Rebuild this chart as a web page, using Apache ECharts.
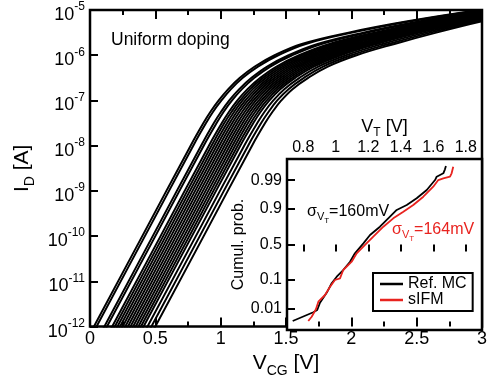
<!DOCTYPE html>
<html>
<head>
<meta charset="utf-8">
<script src="https://cdn.jsdelivr.net/npm/echarts@6/dist/echarts.min.js"></script>
<style>html,body{margin:0;padding:0;background:#fff}#c{width:497px;height:383px}</style>
</head>
<body>
<div id="c"></div>
<script>
// ---- main plot: gate voltage V_CG (V) at which each curve reaches a given log10(I_D) level ----
const levelsLog = [-12.5, -10, -8, -7.5, -7.25, -7, -6.75, -6.5, -6.25, -6, -5.75, -5.5, -5.25, -5, -4.9];
const curve01 = [-0.063, 0.40, 0.77, 0.868, 0.922, 0.985, 1.058, 1.147, 1.261, 1.413, 1.621, 1.978, 2.430, 2.980, 3.270];
const curve02 = [-0.043, 0.42, 0.79, 0.888, 0.942, 1.006, 1.079, 1.169, 1.285, 1.440, 1.651, 2.007, 2.455, 2.998, 3.283];
const curve03 = [0.017, 0.48, 0.85, 0.948, 1.003, 1.066, 1.142, 1.236, 1.356, 1.520, 1.742, 2.092, 2.527, 3.051, 3.323];
const curve04 = [0.037, 0.50, 0.87, 0.969, 1.023, 1.087, 1.163, 1.258, 1.380, 1.547, 1.772, 2.121, 2.551, 3.069, 3.336];
const curve05 = [0.077, 0.54, 0.91, 1.009, 1.064, 1.128, 1.205, 1.303, 1.428, 1.600, 1.832, 2.178, 2.600, 3.105, 3.362];
const curve06 = [0.097, 0.56, 0.93, 1.028, 1.084, 1.148, 1.225, 1.325, 1.451, 1.626, 1.862, 2.206, 2.624, 3.123, 3.375];
const curve07 = [0.117, 0.58, 0.95, 1.049, 1.104, 1.168, 1.246, 1.347, 1.475, 1.653, 1.893, 2.235, 2.648, 3.141, 3.389];
const curve08 = [0.137, 0.60, 0.97, 1.069, 1.124, 1.189, 1.268, 1.370, 1.499, 1.680, 1.923, 2.264, 2.673, 3.159, 3.402];
const curve09 = [0.157, 0.62, 0.99, 1.089, 1.144, 1.209, 1.288, 1.392, 1.523, 1.706, 1.953, 2.292, 2.697, 3.177, 3.415];
const curve10 = [0.177, 0.64, 1.01, 1.109, 1.165, 1.230, 1.309, 1.414, 1.547, 1.733, 1.983, 2.321, 2.721, 3.195, 3.428];
const curve11 = [0.197, 0.66, 1.03, 1.129, 1.185, 1.250, 1.330, 1.436, 1.570, 1.760, 2.013, 2.350, 2.745, 3.212, 3.441];
const curve12 = [0.217, 0.68, 1.05, 1.149, 1.205, 1.270, 1.351, 1.459, 1.594, 1.787, 2.044, 2.379, 2.770, 3.230, 3.455];
const curve13 = [0.237, 0.70, 1.07, 1.169, 1.225, 1.291, 1.372, 1.481, 1.618, 1.813, 2.073, 2.407, 2.794, 3.248, 3.468];
const curve14 = [0.257, 0.72, 1.09, 1.189, 1.245, 1.311, 1.393, 1.503, 1.642, 1.840, 2.104, 2.436, 2.818, 3.266, 3.481];
const curve15 = [0.277, 0.74, 1.11, 1.209, 1.265, 1.331, 1.414, 1.525, 1.665, 1.866, 2.134, 2.464, 2.842, 3.284, 3.494];
const curve16 = [0.297, 0.76, 1.13, 1.230, 1.286, 1.352, 1.435, 1.548, 1.689, 1.893, 2.164, 2.493, 2.867, 3.302, 3.507];
const curve17 = [0.317, 0.78, 1.15, 1.250, 1.306, 1.373, 1.456, 1.570, 1.713, 1.920, 2.195, 2.522, 2.891, 3.320, 3.521];
const curve18 = [0.347, 0.81, 1.18, 1.280, 1.336, 1.403, 1.487, 1.603, 1.748, 1.960, 2.239, 2.564, 2.927, 3.346, 3.540];
const curve19 = [0.377, 0.84, 1.21, 1.310, 1.367, 1.433, 1.519, 1.637, 1.784, 2.000, 2.285, 2.607, 2.964, 3.373, 3.560];
const curve20 = [0.407, 0.87, 1.24, 1.340, 1.397, 1.464, 1.550, 1.670, 1.820, 2.040, 2.330, 2.650, 3.000, 3.400, 3.580];
const curves = [curve01, curve02, curve03, curve04, curve05, curve06, curve07, curve08, curve09, curve10,
                curve11, curve12, curve13, curve14, curve15, curve16, curve17, curve18, curve19, curve20];

// ---- inset: cumulative probability of V_T ----
const refVT   = [0.735, 0.862, 0.886, 0.903, 0.948, 0.975, 1.006, 1.046, 1.088, 1.118, 1.170, 1.211, 1.272, 1.323, 1.375, 1.437, 1.498, 1.560, 1.611, 1.621, 1.662, 1.672, 1.678];
const refProb = [0.00285, 0.00714, 0.00897, 0.0177, 0.0440, 0.0805, 0.1222, 0.1783, 0.267, 0.375, 0.517, 0.634, 0.740, 0.828, 0.894, 0.923, 0.9525, 0.9756, 0.9901, 0.99286, 0.99496, 0.99672, 0.99772];
const sifmVT   = [0.831, 0.852, 0.878, 0.893, 0.934, 0.965, 0.995, 1.026, 1.046, 1.098, 1.129, 1.180, 1.231, 1.293, 1.354, 1.416, 1.477, 1.539, 1.600, 1.631, 1.662, 1.703, 1.713, 1.723];
const sifmProb = [0.00285, 0.00454, 0.00959, 0.0194, 0.0340, 0.0636, 0.0998, 0.1109, 0.1783, 0.267, 0.375, 0.493, 0.611, 0.740, 0.828, 0.882, 0.923, 0.958, 0.9816, 0.9901, 0.9916, 0.99286, 0.99496, 0.99754];

// tick labels
const mainXTicks = [0, 0.5, 1, 1.5, 2, 2.5, 3];
const insetVTTicks = [0.8, 1, 1.2, 1.4, 1.6, 1.8];
const probTicks = [0.01, 0.1, 0.5, 0.9, 0.99];
const probTickLabels = ['0.01', '0.1', '0.5', '0.9', '0.99'];

function probit(p) {
  const a = [-3.969683028665376e+01, 2.209460984245205e+02, -2.759285104469687e+02, 1.383577518672690e+02, -3.066479806614716e+01, 2.506628277459239e+00];
  const b = [-5.447609879822406e+01, 1.615858368580409e+02, -1.556989798598866e+02, 6.680131188771972e+01, -1.328068155288572e+01];
  const c = [-7.784894002430293e-03, -3.223964580411365e-01, -2.400758277161838e+00, -2.549732539343734e+00, 4.374664141464968e+00, 2.938163982698783e+00];
  const d = [7.784695709041462e-03, 3.224671290700398e-01, 2.445134137142996e+00, 3.754408661907416e+00];
  const pl = 0.02425, ph = 1 - pl;
  let q, r;
  if (p < pl) { q = Math.sqrt(-2 * Math.log(p)); return (((((c[0]*q+c[1])*q+c[2])*q+c[3])*q+c[4])*q+c[5]) / ((((d[0]*q+d[1])*q+d[2])*q+d[3])*q+1); }
  if (p > ph) { q = Math.sqrt(-2 * Math.log(1 - p)); return -(((((c[0]*q+c[1])*q+c[2])*q+c[3])*q+c[4])*q+c[5]) / ((((d[0]*q+d[1])*q+d[2])*q+d[3])*q+1); }
  q = p - 0.5; r = q * q;
  return (((((a[0]*r+a[1])*r+a[2])*r+a[3])*r+a[4])*r+a[5])*q / (((((b[0]*r+b[1])*r+b[2])*r+b[3])*r+b[4])*r+1);
}

const FONT = 'Liberation Sans, Arial, sans-serif';
const chart = echarts.init(document.getElementById('c'), null, {renderer: 'canvas'});

const mainSeries = curves.map((cv, i) => ({
  name: 'curve' + (i + 1),
  type: 'line', xAxisIndex: 0, yAxisIndex: 0,
  data: cv.map((v, k) => [v, Math.pow(10, levelsLog[k])]),
  symbol: 'none', showSymbol: false, smooth: 0.4, clip: true, silent: true,
  lineStyle: {color: '#000', width: 2}, z: 2
}));

const probTickZ = probTicks.map(probit);
const tickStyle = {color: '#000', width: 2};

const option = {
  animation: false,
  backgroundColor: '#fff',
  textStyle: {fontFamily: FONT, color: '#000'},
  grid: [
    {left: 90, top: 10, right: 15, bottom: 53, show: true, borderColor: '#000', borderWidth: 2.5, backgroundColor: 'transparent'},
    {left: 287, top: 159, right: 15, bottom: 53, show: true, borderColor: '#000', borderWidth: 2.5, backgroundColor: '#fff'}
  ],
  legend: {
    data: ['Ref. MC', 'sIFM'], orient: 'vertical', left: 373, top: 273,
    icon: 'rect', itemWidth: 23, itemHeight: 2.5, itemGap: 0,
    padding: [3, 6, 3, 7], borderColor: '#000', borderWidth: 2, backgroundColor: '#fff',
    selectedMode: false,
    textStyle: {fontSize: 16, color: '#000', fontFamily: FONT, lineHeight: 16}
  },
  xAxis: [
    {
      gridIndex: 0, type: 'value', min: 0, max: 3, interval: 0.5,
      axisLine: {show: false},
      axisTick: {inside: true, length: 9, lineStyle: tickStyle},
      minorTick: {show: true, splitNumber: 2, length: 5, lineStyle: tickStyle},
      splitLine: {show: false}, minorSplitLine: {show: false},
      axisLabel: {fontSize: 18, color: '#000', margin: 3, fontFamily: FONT,
        formatter: v => { const i = mainXTicks.findIndex(t => Math.abs(t - v) < 1e-9); return i >= 0 ? String(mainXTicks[i]) : ''; }},
      name: '{b|V}{s|CG}{b| [V]}', nameLocation: 'middle', nameGap: 19,
      nameTextStyle: {rich: {
        b: {fontSize: 21, color: '#000', fontFamily: FONT},
        s: {fontSize: 14, color: '#000', fontFamily: FONT, padding: [16, 0, 0, 0]}
      }}
    },
    {
      gridIndex: 0, type: 'value', min: 0, max: 3, interval: 0.5, position: 'top',
      axisLine: {show: false},
      axisTick: {inside: true, length: 9, lineStyle: tickStyle},
      minorTick: {show: true, splitNumber: 2, length: 5, lineStyle: tickStyle},
      splitLine: {show: false}, axisLabel: {show: false}
    },
    {
      gridIndex: 1, type: 'value', min: 0.7, max: 1.9, position: 'top',
      axisLine: {show: false},
      axisTick: {inside: true, length: 7, lineStyle: tickStyle, customValues: insetVTTicks},
      splitLine: {show: false},
      axisLabel: {fontSize: 16, color: '#000', margin: 3, fontFamily: FONT, customValues: insetVTTicks,
        formatter: v => String(Math.round(v * 10) / 10)},
      name: '{b|V}{s|T}{b| [V]}', nameLocation: 'middle', nameGap: 20,
      nameTextStyle: {rich: {
        b: {fontSize: 18, color: '#000', fontFamily: FONT},
        s: {fontSize: 12, color: '#000', fontFamily: FONT, padding: [12, 0, 0, 0]}
      }}
    }
  ],
  yAxis: [
    {
      gridIndex: 0, type: 'log', logBase: 10, min: 1e-12, max: 1e-5,
      axisLine: {show: false},
      axisTick: {inside: true, length: 8, lineStyle: tickStyle},
      splitLine: {show: false},
      axisLabel: {
        margin: 5, padding: [10, 0, 0, 0], color: '#000',
        formatter: v => '{b|10}{s|' + Math.round(Math.log10(v)) + '}',
        rich: {
          b: {fontSize: 18, color: '#000', fontFamily: FONT},
          s: {fontSize: 12, color: '#000', fontFamily: FONT, padding: [0, 0, 16, 0]}
        }
      },
      name: '{b|I}{s|D}{b| [A]}', nameLocation: 'middle', nameGap: 51,
      nameTextStyle: {rich: {
        b: {fontSize: 21, color: '#000', fontFamily: FONT},
        s: {fontSize: 14, color: '#000', fontFamily: FONT, padding: [16, 0, 0, 0]}
      }}
    },
    {
      gridIndex: 1, type: 'value', min: probit(0.001), max: probit(0.999),
      axisLine: {show: false},
      axisTick: {inside: true, length: 8, lineStyle: tickStyle, customValues: probTickZ},
      splitLine: {show: false},
      axisLabel: {fontSize: 16, color: '#000', margin: 5, fontFamily: FONT, customValues: probTickZ,
        formatter: v => { let best = 0; probTickZ.forEach((z, i) => { if (Math.abs(z - v) < Math.abs(probTickZ[best] - v)) best = i; }); return probTickLabels[best]; }},
      name: 'Cumul. prob.', nameLocation: 'middle', nameGap: 37,
      nameTextStyle: {fontSize: 16, color: '#000', fontFamily: FONT}
    }
  ],
  series: mainSeries.concat([
    {
      name: 'Ref. MC', type: 'line', xAxisIndex: 2, yAxisIndex: 1,
      data: refVT.map((v, i) => [v, probit(refProb[i])]),
      symbol: 'none', showSymbol: false, color: '#000',
      lineStyle: {color: '#000', width: 1.8}, z: 4
    },
    {
      name: 'sIFM', type: 'line', xAxisIndex: 2, yAxisIndex: 1,
      data: sifmVT.map((v, i) => [v, probit(sifmProb[i])]),
      symbol: 'none', showSymbol: false, color: '#e8231f',
      lineStyle: {color: '#e8231f', width: 1.8}, z: 5
    }
  ]),
  graphic: [
    {type: 'text', left: 111, top: 31, z: 10,
      style: {text: 'Uniform doping', fontSize: 17.5, fontFamily: FONT, fill: '#000'}},
    {type: 'text', x: 307, y: 212, z: 10,
      style: {text: '{g|σ}{v|V}{t|T}{n|=160mV}', verticalAlign: 'middle', align: 'left', fill: '#000',
        rich: {
          g: {fontSize: 16, fontFamily: FONT, fill: '#000'},
          v: {fontSize: 11, fontFamily: FONT, fill: '#000', padding: [10, 0, 0, 0]},
          t: {fontSize: 8, fontFamily: FONT, fill: '#000', padding: [18, 0, 0, 0]},
          n: {fontSize: 16, fontFamily: FONT, fill: '#000'}
        }}},
    {type: 'text', x: 392, y: 230, z: 10,
      style: {text: '{g|σ}{v|V}{t|T}{n|=164mV}', verticalAlign: 'middle', align: 'left', fill: '#e8231f',
        rich: {
          g: {fontSize: 16, fontFamily: FONT, fill: '#e8231f'},
          v: {fontSize: 11, fontFamily: FONT, fill: '#e8231f', padding: [10, 0, 0, 0]},
          t: {fontSize: 8, fontFamily: FONT, fill: '#e8231f', padding: [18, 0, 0, 0]},
          n: {fontSize: 16, fontFamily: FONT, fill: '#e8231f'}
        }}}
  ]
};
chart.setOption(option);
</script>
</body>
</html>
